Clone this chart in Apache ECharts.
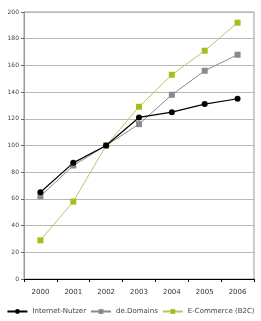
<!DOCTYPE html>
<html>
<head>
<meta charset="utf-8">
<script src="https://cdn.jsdelivr.net/npm/echarts@6/dist/echarts.min.js"></script>
<style>
  html, body { margin: 0; padding: 0; background: #fff; }
  #chart { width: 261px; height: 321px; }
</style>
</head>
<body>
<div id="chart"></div>
<script>
const years = ["2000", "2001", "2002", "2003", "2004", "2005", "2006"];
const internetNutzer = [65, 87, 100, 121, 125, 131, 135];
const deDomains = [62, 85, 100, 116, 138, 156, 168];
const eCommerce = [29, 58, 100, 129, 153, 171, 192];

const chart = echarts.init(document.getElementById("chart"));
const font = "DejaVu Sans";

chart.setOption({
  animation: false,
  grid: {
    left: 24, right: 7, top: 12, bottom: 42,
    show: true, borderColor: "#999", borderWidth: 1,
  },
  textStyle: { fontFamily: font },
  legend: {
    bottom: 1,
    left: "center",
    itemWidth: 20,
    itemHeight: 6,
    itemGap: 4,
    textStyle: { fontSize: 7, color: "#444", fontFamily: font },
    data: ["Internet-Nutzer", "de.Domains", "E-Commerce (B2C)"],
  },
  xAxis: {
    type: "category",
    data: years,
    boundaryGap: true,
    axisLine: { lineStyle: { color: "#000", width: 1 } },
    axisTick: { show: true, length: 3, lineStyle: { color: "#000" } },
    axisLabel: { fontSize: 7, color: "#333", margin: 10 },
  },
  yAxis: {
    type: "value",
    min: 0, max: 200, interval: 20,
    axisLine: { show: true, lineStyle: { color: "#999" } },
    axisTick: { show: true, length: 3, lineStyle: { color: "#666" } },
    axisLabel: { fontSize: 6, color: "#444", margin: 5 },
    splitLine: { lineStyle: { color: "#b8b8b8", width: 1 } },
  },
  series: [
    {
      name: "Internet-Nutzer",
      type: "line",
      data: internetNutzer,
      symbol: "circle",
      symbolSize: 6,
      itemStyle: { color: "#000" },
      lineStyle: { color: "#000", width: 1.2 },
      z: 4,
    },
    {
      name: "de.Domains",
      type: "line",
      data: deDomains,
      symbol: "rect",
      symbolSize: 6,
      itemStyle: { color: "#8a8a8a" },
      lineStyle: { color: "#8a8a8a", width: 1 },
      z: 3,
    },
    {
      name: "E-Commerce (B2C)",
      type: "line",
      data: eCommerce,
      symbol: "rect",
      symbolSize: 6,
      itemStyle: { color: "#9dc21e" },
      lineStyle: { color: "#b5c76a", width: 1 },
      z: 2,
    },
  ],
});
</script>
</body>
</html>
